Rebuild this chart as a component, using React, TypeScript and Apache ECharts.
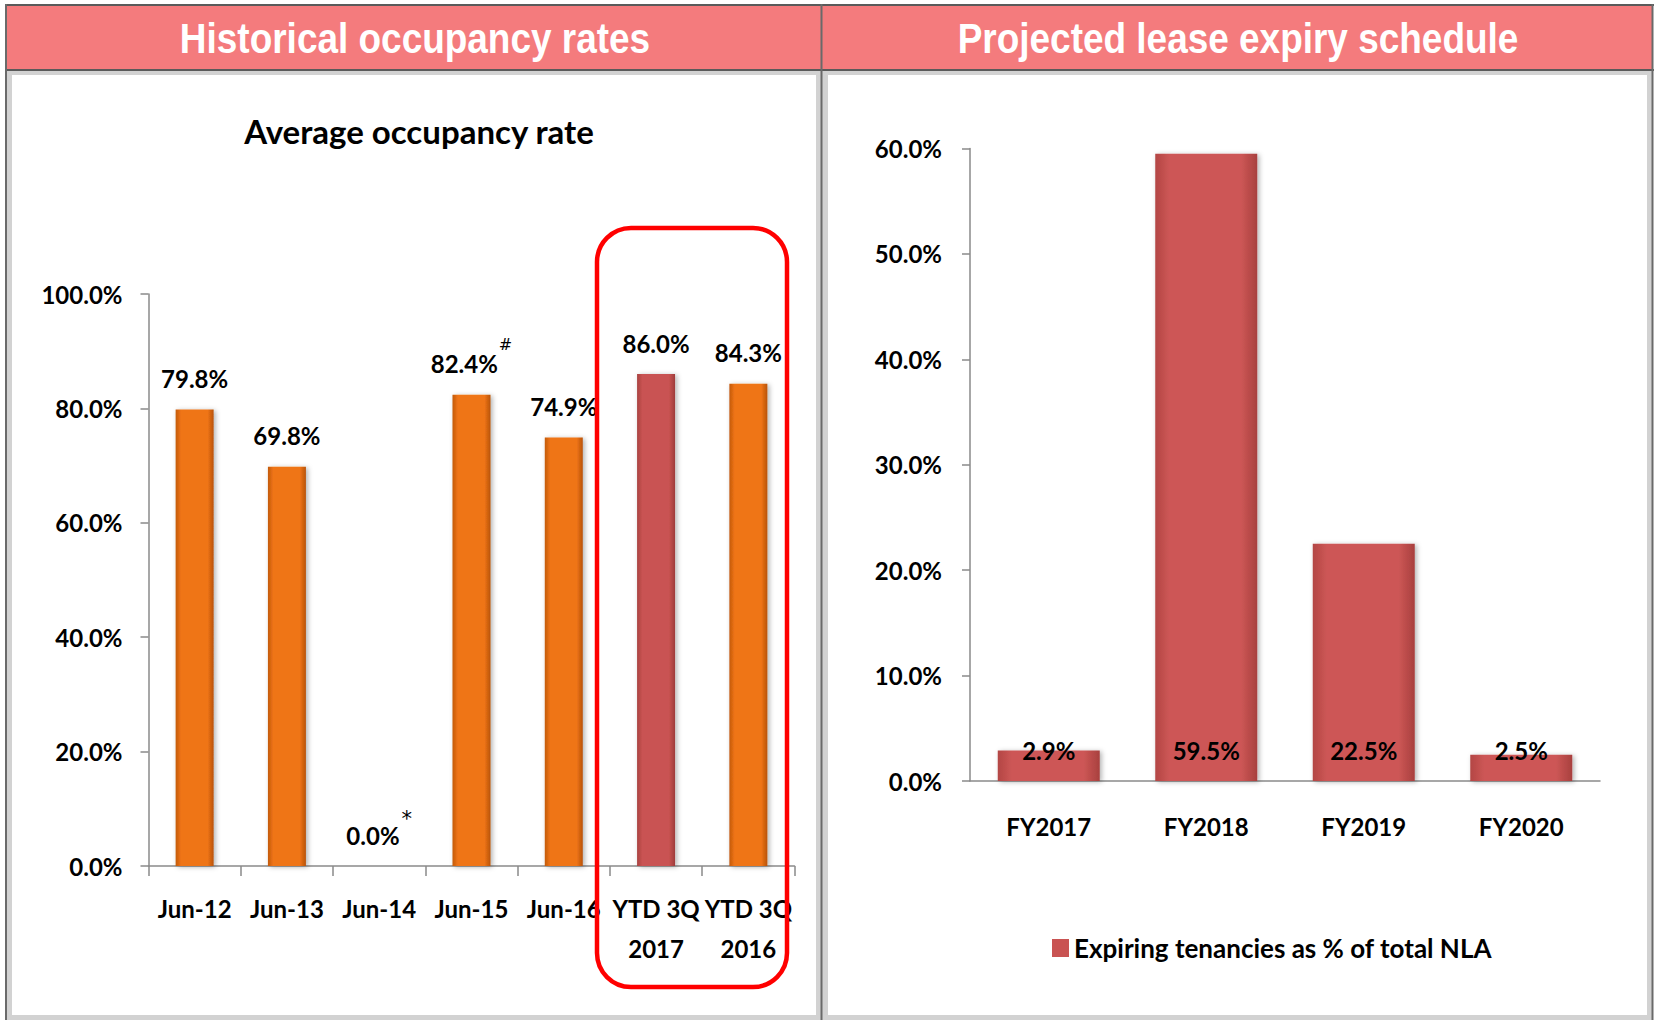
import React, { useEffect, useRef } from 'react';
import * as echarts from 'echarts';

const occupancyCategories = ['Jun-12', 'Jun-13', 'Jun-14', 'Jun-15', 'Jun-16', 'YTD 3Q\n2017', 'YTD 3Q\n2016'];
const occupancyRates = [79.8, 69.8, 0.0, 82.4, 74.9, 86.0, 84.3];
const occupancyNotes = ['', '', '*', '#', '', '', ''];
const highlightedIndex = 5;

const expiryCategories = ['FY2017', 'FY2018', 'FY2019', 'FY2020'];
const expiringShares = [2.9, 59.5, 22.5, 2.5];

const headerTitles = ['Historical occupancy rates', 'Projected lease expiry schedule'];
const chartTitle = 'Average occupancy rate';
const legendLabel = 'Expiring tenancies as % of total NLA';

const FONT = 'Lato, "Open Sans", sans-serif';
const HEAD_FONT = '"Liberation Sans", Arial, sans-serif';
const AXIS_GRAY = '#8A8A8A';

const pct = (v: number) => v.toFixed(1) + '%';

function hGrad(edge: string, mid: string, edge2: string) {
  return new echarts.graphic.LinearGradient(0, 0, 1, 0, [
    { offset: 0, color: edge },
    { offset: 0.14, color: mid },
    { offset: 0.84, color: mid },
    { offset: 1, color: edge2 },
  ]);
}

export default function App() {
  const ref = useRef<HTMLDivElement>(null);

  useEffect(() => {
    if (!ref.current) return;
    const chart = echarts.init(ref.current, undefined, { renderer: 'svg' });

    const orange = hGrad('#C35A0C', '#EF7415', '#B8530A');
    const red = hGrad('#A94341', '#C95352', '#9E3C3A');
    const red2 = hGrad('#B34644', '#CD5756', '#A8403E');

    const labelText = { color: '#000', fontFamily: FONT, fontWeight: 'bold' as const, fontSize: 24 };

    const option: any = {
      animation: false,
      backgroundColor: '#ffffff',
      grid: [
        { left: 148.5, top: 294, width: 646, height: 572, containLabel: false },
        { left: 970, top: 148.5, width: 630, height: 632.5, containLabel: false },
      ],
      xAxis: [
        {
          type: 'category',
          gridIndex: 0,
          data: occupancyCategories,
          axisLine: { lineStyle: { color: AXIS_GRAY, width: 1.5 } },
          axisTick: { show: true, length: 10, lineStyle: { color: AXIS_GRAY, width: 1.5 } },
          axisLabel: { ...labelText, lineHeight: 40, margin: 22, interval: 0 },
        },
        {
          type: 'category',
          gridIndex: 1,
          data: expiryCategories,
          axisLine: { lineStyle: { color: AXIS_GRAY, width: 1.5 } },
          axisTick: { show: false },
          axisLabel: { ...labelText, lineHeight: 40, margin: 25, interval: 0 },
        },
      ],
      yAxis: [
        {
          type: 'value',
          gridIndex: 0,
          min: 0,
          max: 100,
          interval: 20,
          splitLine: { show: false },
          axisLine: { show: true, lineStyle: { color: AXIS_GRAY, width: 1.5 } },
          axisTick: { show: true, length: 8, lineStyle: { color: AXIS_GRAY, width: 1.5 } },
          axisLabel: { ...labelText, margin: 26, formatter: (v: number) => pct(v) },
        },
        {
          type: 'value',
          gridIndex: 1,
          min: 0,
          max: 60,
          interval: 10,
          splitLine: { show: false },
          axisLine: { show: true, lineStyle: { color: AXIS_GRAY, width: 1.5 } },
          axisTick: { show: true, length: 8, lineStyle: { color: AXIS_GRAY, width: 1.5 } },
          axisLabel: { ...labelText, margin: 28, formatter: (v: number) => pct(v) },
        },
      ],
      legend: {
        show: true,
        left: 1047,
        top: 930,
        icon: 'rect',
        itemWidth: 17,
        itemHeight: 18,
        itemGap: 10,
        textStyle: { ...labelText, fontSize: 26, padding: [0, 0, 0, 0] },
        data: [{ name: legendLabel, itemStyle: { color: '#C95352' } }],
      },
      series: [
        {
          type: 'bar',
          name: 'Average occupancy rate',
          xAxisIndex: 0,
          yAxisIndex: 0,
          barWidth: 38,
          data: occupancyRates.map((v, i) => ({
            value: v,
            itemStyle: { color: i === highlightedIndex ? red : orange },
          })),
          itemStyle: {
            shadowBlur: 5,
            shadowColor: 'rgba(0,0,0,0.3)',
            shadowOffsetX: 2,
            shadowOffsetY: 1,
          },
          label: {
            show: true,
            position: 'top',
            distance: 4,
            formatter: (p: any) => {
              const note = occupancyNotes[p.dataIndex];
              const style = note === '*' ? 'a' : 's';
              return '{v|' + pct(occupancyRates[p.dataIndex]) + '}' + (note ? '{' + style + '|' + note + '}' : '');
            },
            rich: {
              v: { ...labelText, lineHeight: 54 },
              s: { color: '#000', fontFamily: '"DejaVu Sans", sans-serif', fontSize: 16, lineHeight: 18, verticalAlign: 'top', padding: [0, 0, 0, 1] },
              a: { color: '#000', fontFamily: '"DejaVu Sans", sans-serif', fontSize: 21, lineHeight: 22, verticalAlign: 'top', padding: [0, 0, 0, 2] },
            },
          },
        },
        {
          type: 'bar',
          name: legendLabel,
          xAxisIndex: 1,
          yAxisIndex: 1,
          barWidth: 102,
          data: expiringShares,
          itemStyle: {
            color: red2,
            shadowBlur: 5,
            shadowColor: 'rgba(0,0,0,0.3)',
            shadowOffsetX: 2,
            shadowOffsetY: 1,
          },
          label: {
            show: true,
            position: 'insideBottom',
            distance: 19,
            ...labelText,
            lineHeight: 24,
            formatter: (p: any) => pct(p.value),
          },
        },
      ],
      graphic: [
        // panels
        { type: 'rect', z: -10, shape: { x: 9, y: 72, width: 810, height: 946 }, style: { fill: '#fff', stroke: '#D2D2D2', lineWidth: 6 } },
        { type: 'rect', z: -10, shape: { x: 825, y: 72, width: 825, height: 946 }, style: { fill: '#fff', stroke: '#D2D2D2', lineWidth: 6 } },
        // header bars
        { type: 'rect', z: -5, shape: { x: 6, y: 5, width: 815, height: 64 }, style: { fill: '#F47B7D' } },
        { type: 'rect', z: -5, shape: { x: 822, y: 5, width: 830, height: 64 }, style: { fill: '#F47B7D' } },
        // frame lines
        { type: 'line', z: -4, shape: { x1: 5, y1: 5, x2: 1654, y2: 5 }, style: { stroke: '#5A5A5A', lineWidth: 2 } },
        { type: 'line', z: -4, shape: { x1: 5, y1: 70, x2: 1654, y2: 70 }, style: { stroke: '#5A5A5A', lineWidth: 2 } },
        { type: 'line', z: -4, shape: { x1: 6, y1: 4, x2: 6, y2: 1020 }, style: { stroke: '#6A6A6A', lineWidth: 2 } },
        { type: 'line', z: -4, shape: { x1: 821.5, y1: 4, x2: 821.5, y2: 1020 }, style: { stroke: '#6A6A6A', lineWidth: 2 } },
        { type: 'line', z: -4, shape: { x1: 1652.5, y1: 4, x2: 1652.5, y2: 1020 }, style: { stroke: '#6A6A6A', lineWidth: 2 } },
        // header texts
        {
          type: 'text', z: 5, x: 415, y: 38, scaleX: 0.88,
          style: { text: headerTitles[0], fill: '#fff', fontFamily: HEAD_FONT, fontWeight: 'bold', fontSize: 42, align: 'center', verticalAlign: 'middle' },
        },
        {
          type: 'text', z: 5, x: 1238, y: 38, scaleX: 0.88,
          style: { text: headerTitles[1], fill: '#fff', fontFamily: HEAD_FONT, fontWeight: 'bold', fontSize: 42, align: 'center', verticalAlign: 'middle' },
        },
        // chart title
        {
          type: 'text', z: 5, x: 419, y: 131,
          style: { text: chartTitle, fill: '#000', fontFamily: FONT, fontWeight: 'bold', fontSize: 33, align: 'center', verticalAlign: 'middle' },
        },
        // red highlight box
        {
          type: 'rect', z: 100,
          shape: { x: 597, y: 228, width: 190, height: 759, r: 34 },
          style: { fill: 'none', stroke: '#FF0000', lineWidth: 4.5 },
        },
      ],
    };

    chart.setOption(option);
    return () => chart.dispose();
  }, []);

  return (
    <div
      ref={ref}
      style={{ position: 'fixed', left: 0, top: 0, width: 1654, height: 1020, background: '#fff' }}
    />
  );
}
